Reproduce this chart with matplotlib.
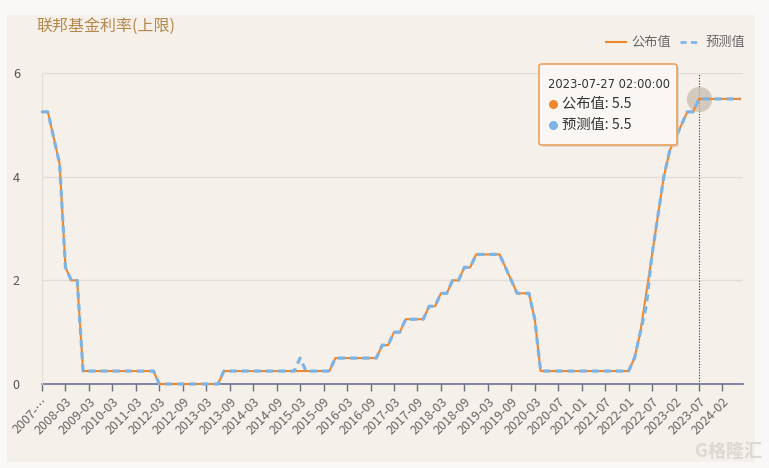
import matplotlib
matplotlib.use('Agg')
import matplotlib.pyplot as plt
from matplotlib.patches import Rectangle, FancyBboxPatch
from matplotlib.lines import Line2D

plt.rcParams['font.family'] = ['Noto Sans CJK SC', 'DejaVu Sans']

title = '联邦基金利率(上限)'
series_names = ['公布值', '预测值']

# подписи оси x (каждая 4-я категория)
tick_labels = ['2007-…', '2008-03', '2009-03', '2010-03', '2011-03', '2012-03', '2012-09',
               '2013-03', '2013-09', '2014-03', '2014-09', '2015-03', '2015-09', '2016-03',
               '2016-09', '2017-03', '2017-09', '2018-03', '2018-09', '2019-03', '2019-09',
               '2020-03', '2020-07', '2021-01', '2021-07', '2022-01', '2022-07', '2023-02',
               '2023-07', '2024-02']
label_step = 4

published = [5.25, 5.25, 4.75, 4.25, 2.25, 2.0, 2.0,
             0.25, 0.25, 0.25, 0.25, 0.25, 0.25, 0.25, 0.25, 0.25, 0.25, 0.25, 0.25, 0.25,
             0, 0, 0, 0, 0, 0, 0, 0, 0, 0, 0,
             0.25, 0.25, 0.25, 0.25, 0.25, 0.25, 0.25, 0.25, 0.25, 0.25,
             0.25, 0.25, 0.25, 0.25, 0.25, 0.25, 0.25, 0.25, 0.25,
             0.5, 0.5, 0.5, 0.5, 0.5, 0.5, 0.5, 0.5,
             0.75, 0.75, 1.0, 1.0, 1.25, 1.25, 1.25, 1.25, 1.5, 1.5, 1.75, 1.75,
             2.0, 2.0, 2.25, 2.25, 2.5, 2.5, 2.5, 2.5, 2.5, 2.25, 2.0, 1.75, 1.75, 1.75, 1.25,
             0.25, 0.25, 0.25, 0.25, 0.25, 0.25, 0.25, 0.25, 0.25, 0.25, 0.25, 0.25, 0.25, 0.25, 0.25, 0.25,
             0.5, 1.0, 1.75, 2.5, 3.25, 4.0, 4.5, 4.75, 5.0, 5.25, 5.25,
             5.5, 5.5, 5.5, 5.5, 5.5, 5.5, 5.5, 5.5]

forecast = [5.25, 5.25, 4.75, 4.25, 2.25, 2.0, 2.0,
            0.25, 0.25, 0.25, 0.25, 0.25, 0.25, 0.25, 0.25, 0.25, 0.25, 0.25, 0.25, 0.25,
            0, 0, 0, 0, 0, 0, 0, 0, 0, 0, 0,
            0.25, 0.25, 0.25, 0.25, 0.25, 0.25, 0.25, 0.25, 0.25, 0.25,
            0.25, 0.25, 0.25, 0.5, 0.25, 0.25, 0.25, 0.25, 0.25,
            0.5, 0.5, 0.5, 0.5, 0.5, 0.5, 0.5, 0.5,
            0.75, 0.75, 1.0, 1.0, 1.25, 1.25, 1.25, 1.25, 1.5, 1.5, 1.75, 1.75,
            2.0, 2.0, 2.25, 2.25, 2.5, 2.5, 2.5, 2.5, 2.5, 2.25, 2.0, 1.75, 1.75, 1.75, 1.25,
            0.25, 0.25, 0.25, 0.25, 0.25, 0.25, 0.25, 0.25, 0.25, 0.25, 0.25, 0.25, 0.25, 0.25, 0.25, 0.25,
            0.5, 1.0, 1.5, 2.5, 3.25, 4.0, 4.5, 4.75, 5.0, 5.25, 5.25,
            5.5, 5.5, 5.5, 5.5, 5.5, 5.5, 5.5, 5.5]

hover_idx = 112
hover_time = '2023-07-27 02:00:00'

orange = '#f0872d'
blue = '#7db4e6'
grey = '#6e7079'

W, H = 769, 468
fig = plt.figure(figsize=(W / 100, H / 100), dpi=100, facecolor='#faf8f6')


def fx(px):
    return px / W


def fy(py):
    return 1 - py / H


# бежевая панель
fig.add_artist(Rectangle((fx(7), fy(462)), fx(755) - fx(7), fy(15) - fy(462),
                         transform=fig.transFigure, facecolor='#f5f0ea', edgecolor='none', zorder=0))

ax = fig.add_axes([fx(42), fy(384), fx(743) - fx(42), fy(73) - fy(384)])
ax.set_facecolor('none')

x = list(range(len(published)))
ax.plot(x, published, color=orange, lw=1.5, zorder=3, solid_joinstyle='round', clip_on=False)
ax.plot(x, forecast, color=blue, lw=2.3, ls=(0, (2.2, 1.6)), zorder=4, clip_on=False)

# подсветка точки под курсором
ax.axvline(hover_idx, color='#333333', lw=0.8, ls=(0, (1, 1.5)), zorder=2)
ax.scatter([hover_idx], [published[hover_idx]], s=330, color='#c9bcaf', alpha=0.75, zorder=2, lw=0)

ax.set_xlim(0, len(published) - 0.5)
ax.set_ylim(0, 6)
ax.set_yticks([0, 2, 4, 6])
ax.grid(axis='y', color='#e2ddd7', lw=1)
ax.set_axisbelow(True)

tick_pos = [i * label_step for i in range(len(tick_labels))]
ax.set_xticks(tick_pos)
ax.set_xticklabels(tick_labels, rotation=45, ha='right', rotation_mode='anchor')
ax.tick_params(axis='x', colors=grey, length=5, width=1, pad=3, labelsize=9)
ax.tick_params(axis='x', labelcolor='#666666')
ax.tick_params(axis='y', length=0, pad=16, labelsize=9, labelcolor='#555555')

for s in ['top', 'right']:
    ax.spines[s].set_visible(False)
ax.spines['left'].set_color('#e2ddd7')
ax.spines['bottom'].set_color('#6b7394')
ax.spines['bottom'].set_linewidth(1.2)
ax.spines['bottom'].set_zorder(2)

# заголовок
fig.text(fx(36), fy(27), title, color='#b5874a', fontsize=11.5, va='center', ha='left')

# легенда
fig.add_artist(Line2D([fx(606), fx(626)], [fy(42), fy(42)], color=orange, lw=1.5))
fig.text(fx(631), fy(42), series_names[0], color='#666666', fontsize=9.5, va='center')
fig.add_artist(Line2D([fx(680), fx(700)], [fy(42), fy(42)], color=blue, lw=2, ls=(0, (2.2, 1.6))))
fig.text(fx(705), fy(42), series_names[1], color='#666666', fontsize=9.5, va='center')

# всплывающая подсказка
fig.add_artist(FancyBboxPatch((fx(542), fy(147)), fx(679) - fx(542), fy(66) - fy(147),
                              boxstyle='round,pad=0,rounding_size=0.004', transform=fig.transFigure,
                              facecolor='#c8c0b8', edgecolor='none', alpha=0.5, zorder=5))
fig.add_artist(FancyBboxPatch((fx(539), fy(145)), fx(677) - fx(539), fy(64) - fy(145),
                              boxstyle='round,pad=0,rounding_size=0.004', transform=fig.transFigure,
                              facecolor='#f9f6f3', edgecolor='#e8a45e', lw=1.2, zorder=6))
fig.text(fx(548), fy(84), hover_time, color='#333333', fontsize=8.3, va='center', zorder=7,
         family='DejaVu Sans')
fig.add_artist(Line2D([fx(553)], [fy(104)], marker='o', ms=6.5, color=orange, mec='none', zorder=7))
fig.text(fx(562), fy(104), series_names[0] + ': ' + str(published[hover_idx]),
         color='#333333', fontsize=10.3, va='center', zorder=7)
fig.add_artist(Line2D([fx(553)], [fy(125)], marker='o', ms=6.5, color=blue, mec='none', zorder=7))
fig.text(fx(562), fy(125), series_names[1] + ': ' + str(forecast[hover_idx]),
         color='#333333', fontsize=10.3, va='center', zorder=7)

# водяной знак
fig.text(fx(728), fy(451), 'G格隆汇', color='#dcd8d4', fontsize=13, va='center', ha='center',
         fontweight='bold')

plt.savefig('out.png', dpi=100, facecolor=fig.get_facecolor())
